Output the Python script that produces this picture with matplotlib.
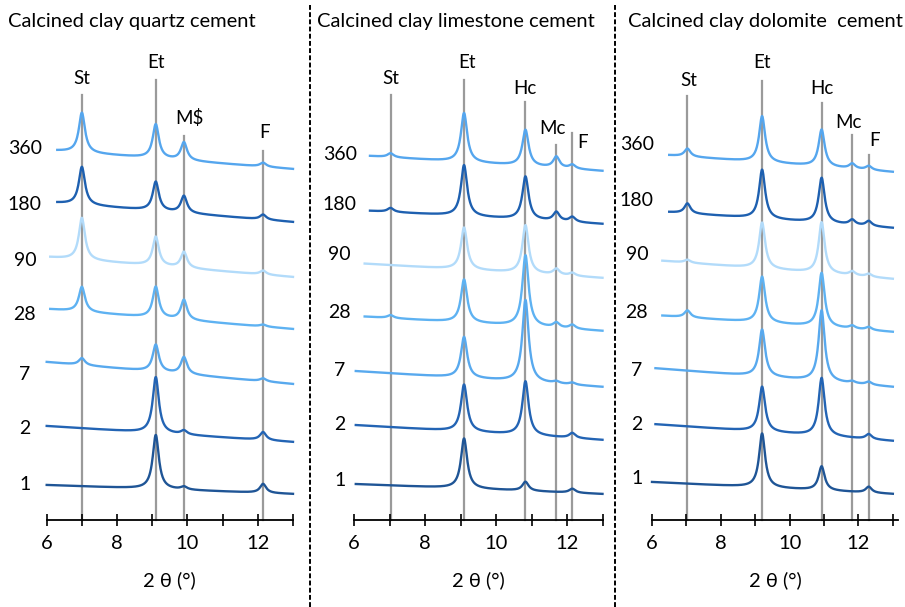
import numpy as np
import matplotlib
matplotlib.use("Agg")
import matplotlib.pyplot as plt
from matplotlib.lines import Line2D

plt.rcParams['font.family'] = ['Lato', 'DejaVu Sans']

# curing ages (days), bottom to top
ages = ["1", "2", "7", "28", "90", "180", "360"]

# quartz cement: St, Et, M$, F
quartz_phases = ["St", "Et", "M$", "F"]
quartz_pos = [7.0, 9.1, 9.9, 12.15]
quartz_start = [6.0, 6.0, 6.0, 6.1, 6.1, 6.3, 6.3]
quartz_left = [35, 94, 158, 211, 263, 318, 370]
quartz_right = [26, 78, 136, 191, 243, 298, 351]
quartz_heights = [[0, 54, 3, 9], [0, 56, 4, 8], [7, 27, 17, 3], [25, 31, 20, 2],
                  [42, 29, 16, 4], [38, 29, 17, 5], [40, 34, 18, 4]]

# limestone cement: St, Et, Hc, Mc, F
limestone_phases = ["St", "Et", "Hc", "Mc", "F"]
limestone_pos = [7.03, 9.1, 10.83, 11.7, 12.15]
limestone_start = [6.05, 6.05, 6.05, 6.3, 6.3, 6.45, 6.45]
limestone_left = [36, 95, 149, 204, 257, 310, 365]
limestone_right = [26, 80, 133, 189, 242, 296, 349]
limestone_heights = [[0, 50, 9, 0, 4], [0, 47, 54, 0, 5], [0, 41, 82, 2, 2], [3, 43, 71, 5, 4],
                     [0, 42, 48, 6, 3], [4, 51, 43, 9, 5], [4, 49, 36, 11, 4]]

# dolomite cement: St, Et, Hc, Mc, F
dolomite_phases = ["St", "Et", "Hc", "Mc", "F"]
dolomite_pos = [7.03, 9.2, 10.93, 11.82, 12.3]
dolomite_start = [6.0, 6.1, 6.1, 6.3, 6.3, 6.5, 6.5]
dolomite_left = [38, 96, 152, 205, 260, 309, 366]
dolomite_right = [26, 79, 133, 188, 241, 292, 348]
dolomite_heights = [[0, 54, 24, 0, 6], [0, 45, 58, 0, 5], [0, 47, 71, 2, 3], [7, 46, 54, 3, 3],
                    [3, 46, 51, 4, 3], [10, 49, 45, 5, 5], [8, 46, 37, 5, 4]]

# layout bits (pixel based, figure 905x607)
W, H = 905, 607
colors = ["#1F5596", "#2364B4", "#58A9EE", "#5EB2F2", "#B2DBFA", "#1E60B0", "#55A6EE"]
gamma = 0.105

panels = [
    dict(title="Calcined clay quartz cement", tx=8, ax_px=(46.7, 293), xmax=13,
         phases=quartz_phases, pos=quartz_pos, start=quartz_start, left=quartz_left,
         right=quartz_right, heights=quartz_heights,
         line_top=[425, 440, 384, 369],
         lab_x=[7.0, 9.1, 10.07, 12.2], lab_y=[442, 457, 402, 387],
         day_x=5.38, day_y=[35, 92, 145, 205, 260, 315, 372]),
    dict(title="Calcined clay limestone cement", tx=317, ax_px=(354, 602.5), xmax=13,
         phases=limestone_phases, pos=limestone_pos, start=limestone_start, left=limestone_left,
         right=limestone_right, heights=limestone_heights,
         line_top=[425, 440, 418, 375, 387],
         lab_x=[7.04, 9.18, 10.82, 11.58, 12.45], lab_y=[442, 457, 432, 392, 378],
         day_x=5.6, day_y=[40, 95, 150, 207, 265, 315, 365]),
    dict(title="Calcined clay dolomite  cement", tx=628, ax_px=(652, 898), xmax=13.15,
         phases=dolomite_phases, pos=dolomite_pos, start=dolomite_start, left=dolomite_left,
         right=dolomite_right, heights=dolomite_heights,
         line_top=[424, 439, 417, 385, 365],
         lab_x=[7.08, 9.2, 10.95, 11.7, 12.47], lab_y=[440, 457, 432, 398, 380],
         day_x=5.56, day_y=[42, 96, 150, 207, 265, 320, 375]),
]

fig = plt.figure(figsize=(W / 100, H / 100), dpi=100)

for p in panels:
    x0, x1 = p['ax_px']
    ax = fig.add_axes([x0 / W, (H - 520) / H, (x1 - x0) / W, 520 / H])
    ax.set_xlim(6, p['xmax'])
    ax.set_ylim(0, 520)
    for s in ['top', 'right', 'left']:
        ax.spines[s].set_visible(False)
    ax.spines['bottom'].set_linewidth(1.3)
    ax.set_yticks([])
    ax.set_xticks([6, 7, 8, 9, 10, 11, 12, 13])
    ax.set_xticklabels(["6", "", "8", "", "10", "", "12", ""])
    ax.tick_params(axis='x', direction='inout', length=8, width=1.2, labelsize=14.5, pad=7)
    ax.set_xlabel("2 θ (°)", fontsize=14.5, labelpad=14)

    # reference lines for the phases
    for xp, top in zip(p['pos'], p['line_top']):
        ax.plot([xp, xp], [0, top], color="#9A9A9A", lw=1.6, zorder=1, clip_on=False)
    for name, lx, ly in zip(p['phases'], p['lab_x'], p['lab_y']):
        ax.text(lx, ly, name, ha='center', va='center', fontsize=13.5, parse_math=False)

    # diffractograms
    for i, age in enumerate(ages):
        x = np.linspace(p['start'][i], 13, 700)
        y = p['left'][i] + (p['right'][i] - p['left'][i]) * (x - 6) / 7
        for xp, h in zip(p['pos'], p['heights'][i]):
            y = y + h * gamma ** 2 / ((x - xp) ** 2 + gamma ** 2)
        ax.plot(x, y, color=colors[i], lw=1.7, zorder=2, clip_on=False)
        ax.text(p['day_x'], p['day_y'][i], age, ha='center', va='center', fontsize=14,
                clip_on=False)

    fig.text(p['tx'] / W, 1 - 22 / H, p['title'], ha='left', va='center', fontsize=14.5)

# dashed separators
for xs in [310, 615]:
    fig.add_artist(Line2D([xs / W, xs / W], [0, 1 - 5 / H], color='black', lw=1.4,
                          ls=(0, (2.5, 1.2))))

fig.savefig("out.png", dpi=100)
